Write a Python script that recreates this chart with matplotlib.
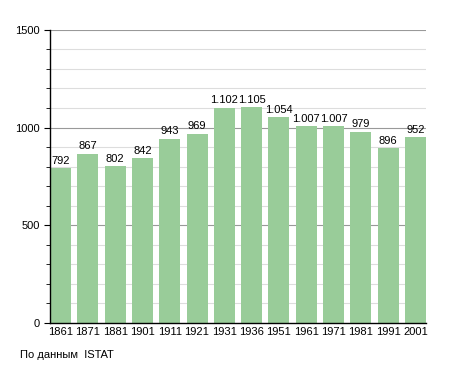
import numpy as np
import matplotlib
matplotlib.use('Agg')
import matplotlib.pyplot as plt


#(0) Data:
years      = ['1861', '1871', '1881', '1901', '1911', '1921', '1931',
              '1936', '1951', '1961', '1971', '1981', '1991', '2001']
population = [792, 867, 802, 842, 943, 969, 1102, 1105, 1054, 1007, 1007, 979, 896, 952]
labels     = ['792', '867', '802', '842', '943', '969', '1.102', '1.105',
              '1.054', '1.007', '1.007', '979', '896', '952']


#(1) Figure:
plt.rcParams['font.family'] = ['Liberation Sans', 'DejaVu Sans']
fig = plt.figure(figsize=(4.55, 3.73), dpi=100)
ax  = fig.add_axes([0.110, 0.134, 0.826, 0.786])

x   = np.arange(len(years))
w   = 0.77
ax.bar(x, population, width=w, color='#99cc99', zorder=2)
for xi, v, s in zip(x, population, labels):
    ax.text(xi, v + 12, s, ha='center', va='bottom', fontsize=8, zorder=3)

#(2) Grid and axes:
for g in range(100, 1600, 100):
    c = '#999999' if g % 500 == 0 else '#dddddd'
    ax.axhline(g, color=c, lw=0.8, zorder=1)

ax.set_xlim(-w/2, len(years) - 1 + w/2)
ax.set_ylim(0, 1500)
ax.set_xticks(x)
ax.set_xticklabels(years, fontsize=8)
ax.set_yticks([0, 500, 1000, 1500])
ax.set_yticks(np.arange(0, 1501, 100), minor=True)
ax.tick_params(axis='y', labelsize=8, length=4)
ax.tick_params(axis='y', which='minor', length=3)
ax.tick_params(axis='x', length=0, pad=3)
for sp in ['top', 'right']:
    ax.spines[sp].set_visible(False)
ax.spines['left'].set_linewidth(1.0)
ax.spines['bottom'].set_linewidth(1.0)

fig.text(20/455, 1 - 355/373, 'По данным  ISTAT', fontsize=8, va='center')

fig.savefig('out.png', dpi=100)
